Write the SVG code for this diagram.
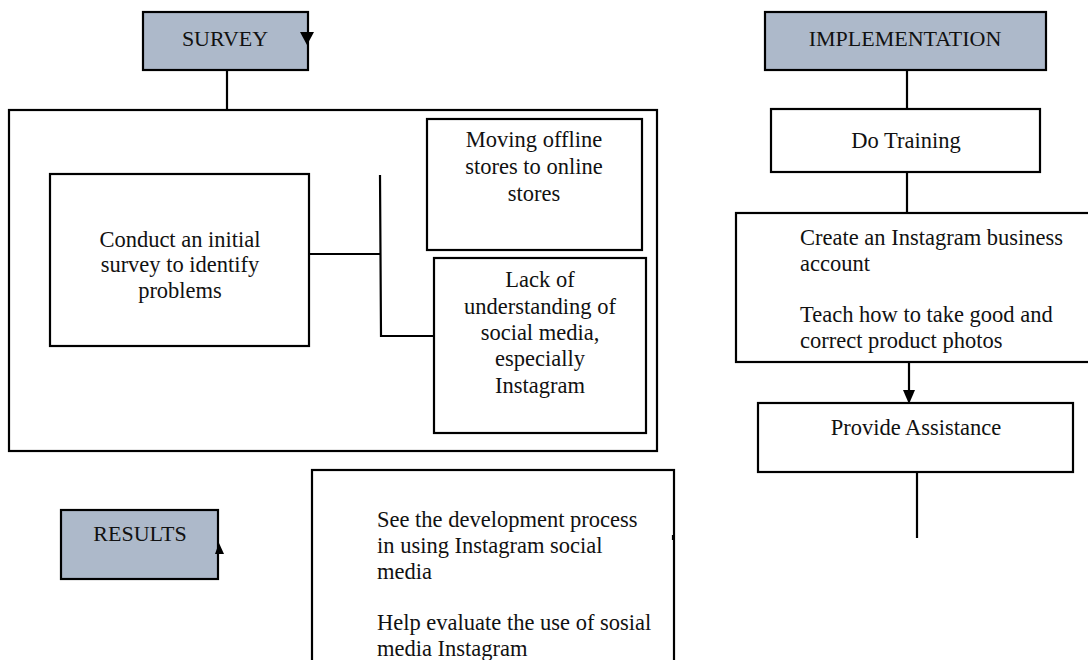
<svg xmlns="http://www.w3.org/2000/svg" width="1088" height="660" viewBox="0 0 1088 660">
  <style>
    .box { fill: #ffffff; stroke: #000000; stroke-width: 2.2; }
    .head { fill: #adb9ca; stroke: #000000; stroke-width: 2.2; }
    .lbl { font-family: "Liberation Serif", "Times New Roman", serif; font-size: 22.5px; fill: #111111; }
    .hd { font-size: 22px; }
    .mid { text-anchor: middle; }
    .wire { fill: none; stroke: #000000; stroke-width: 2.2; }
    .tip { fill: #000000; }
  </style>
  <rect width="1088" height="660" fill="#ffffff"/>

  <!-- outer frame of the survey stage -->
  <g id="survey-frame">
    <rect class="box" x="9" y="110" width="648" height="341"/>
  </g>

  <g id="connectors">
    <line class="wire" x1="227" y1="64" x2="227" y2="110"/>
    <polyline class="wire" points="309,254 381,254"/>
    <polyline class="wire" points="380,175 381,336 434,336"/>
    <line class="wire" x1="907" y1="70" x2="907" y2="109"/>
    <line class="wire" x1="907" y1="172" x2="907" y2="213"/>
    <line class="wire" x1="909" y1="362" x2="909" y2="392"/>
    <line class="wire" x1="917" y1="472" x2="917" y2="538"/>
  </g>

  <g id="survey">
    <rect class="head" x="143" y="12" width="165" height="58"/>
    <text class="lbl hd mid" x="225" y="46">SURVEY</text>
  </g>

  <g id="initial-survey">
    <rect class="box" x="50" y="174" width="259" height="172"/>
    <text class="lbl mid" x="180" y="247">Conduct an initial</text>
    <text class="lbl mid" x="180" y="272">survey to identify</text>
    <text class="lbl mid" x="180" y="298">problems</text>
  </g>

  <g id="moving-stores">
    <rect class="box" x="427" y="119" width="215" height="131"/>
    <text class="lbl mid" x="534" y="147">Moving offline</text>
    <text class="lbl mid" x="534" y="174">stores to online</text>
    <text class="lbl mid" x="534" y="201">stores</text>
  </g>

  <g id="lack-understanding">
    <rect class="box" x="434" y="258" width="212" height="175"/>
    <text class="lbl mid" x="540" y="287">Lack of</text>
    <text class="lbl mid" x="540" y="314">understanding of</text>
    <text class="lbl mid" x="540" y="340">social media,</text>
    <text class="lbl mid" x="540" y="366">especially</text>
    <text class="lbl mid" x="540" y="393">Instagram</text>
  </g>

  <g id="implementation">
    <rect class="head" x="765" y="12" width="281" height="58"/>
    <text class="lbl hd mid" x="905" y="46">IMPLEMENTATION</text>
  </g>

  <g id="training">
    <rect class="box" x="771" y="109" width="269" height="63"/>
    <text class="lbl mid" x="906" y="148">Do Training</text>
  </g>

  <g id="training-topics">
    <rect class="box" x="736" y="213" width="356" height="149"/>
    <text class="lbl" x="800" y="245">Create an Instagram business</text>
    <text class="lbl" x="800" y="271">account</text>
    <text class="lbl" x="800" y="322">Teach how to take good and</text>
    <text class="lbl" x="800" y="348">correct product photos</text>
  </g>

  <g id="assistance">
    <rect class="box" x="758" y="403" width="315" height="69"/>
    <text class="lbl mid" x="916" y="435">Provide Assistance</text>
  </g>

  <g id="results">
    <rect class="head" x="61" y="510" width="157" height="69"/>
    <text class="lbl hd mid" x="140" y="541">RESULTS</text>
  </g>

  <g id="results-detail">
    <rect class="box" x="312" y="470" width="362" height="200"/>
    <text class="lbl" x="377" y="527">See the development process</text>
    <text class="lbl" x="377" y="553">in using Instagram social</text>
    <text class="lbl" x="377" y="579">media</text>
    <text class="lbl" x="377" y="630">Help evaluate the use of sosial</text>
    <text class="lbl" x="377" y="656">media Instagram</text>
  </g>

  <!-- arrow tips drawn over the boxes -->
  <g id="arrow-tips">
    <polygon class="tip" points="300,32 314,32 307,45"/>
    <polygon class="tip" points="903,390 915,390 909,404"/>
    <polygon class="tip" points="219,543 215,554 224,554"/>
    <line class="wire" x1="673" y1="535" x2="673" y2="540"/>
  </g>
</svg>
